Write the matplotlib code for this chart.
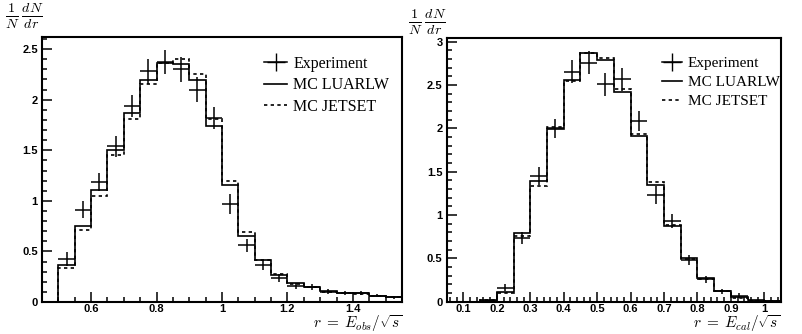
import numpy as np
import matplotlib
matplotlib.use("Agg")
import matplotlib.pyplot as plt
from matplotlib.ticker import MultipleLocator, FuncFormatter
from matplotlib.lines import Line2D

plt.rcParams["mathtext.fontset"] = "cm"

# left panel: r = E_obs / sqrt(s), bins of 0.05 from 0.50
obs_edges = np.round(np.arange(0.50, 1.5501, 0.05), 3)
obs_luarlw = [0.365, 0.756, 1.105, 1.50, 1.867, 2.19, 2.367, 2.354, 2.19, 1.745, 1.16,
              0.654, 0.414, 0.266, 0.19, 0.151, 0.112, 0.092, 0.09, 0.059, 0.052]
obs_jetset = [0.34, 0.71, 1.045, 1.45, 1.81, 2.157, 2.36, 2.40, 2.255, 1.81, 1.20,
              0.69, 0.42, 0.276, 0.18, 0.15, 0.10, 0.09, 0.08, 0.055, 0.05]
obs_exp = [0.425, 0.914, 1.19, 1.54, 1.936, 2.28, 2.37, 2.30, 2.10, 1.82, 0.97,
           0.56, 0.365, 0.233, 0.158, 0.15, 0.10, 0.085, 0.09, 0.06, 0.045]
obs_err = [0.066, 0.08, 0.09, 0.105, 0.11, 0.12, 0.12, 0.12, 0.12, 0.11, 0.1,
           0.066, 0.05, 0.04, 0.03, 0.03, 0.025, 0.02, 0.02, 0.015, 0.015]

# right panel: r = E_cal / sqrt(s), bins of 0.05 from 0.15
cal_edges = np.round(np.arange(0.15, 1.0501, 0.05), 3)
cal_luarlw = [0.02, 0.115, 0.796, 1.392, 1.988, 2.557, 2.865, 2.788, 2.415, 1.911,
              1.346, 0.873, 0.508, 0.27, 0.127, 0.05, 0.015, 0.005]
cal_jetset = [0.02, 0.105, 0.758, 1.335, 2.01, 2.55, 2.87, 2.807, 2.45, 1.94,
              1.384, 0.88, 0.49, 0.26, 0.12, 0.04, 0.01, 0.005]
cal_exp = [0.01, 0.16, 0.73, 1.45, 2.0, 2.653, 2.757, 2.507, 2.565, 2.084,
           1.23, 0.93, 0.48, 0.26, 0.12, 0.07, 0.01, 0.005]
cal_err = [0.01, 0.04, 0.07, 0.1, 0.11, 0.13, 0.13, 0.13, 0.13, 0.12,
           0.1, 0.08, 0.06, 0.04, 0.03, 0.03, 0.01, 0.005]

W, H = 803, 334
fig = plt.figure(figsize=(W / 100, H / 100), dpi=100)

tick_font = {"family": "Liberation Sans", "weight": "bold", "size": 8}
serif = "Liberation Serif"


def fmt(v, pos):
    return "%g" % round(v, 3)


def draw_panel(rect, edges, luarlw, jetset, exp, err, xlim, ylim, xmajor, xminor,
               xlabel, legend_x, handle_len, leg_size):
    ax = fig.add_axes(rect)
    ax.stairs(luarlw, edges, baseline=0, color="black", lw=1.2)
    ax.stairs(jetset, edges, baseline=0, color="black", lw=1.2, linestyle=(0, (2, 2)))
    centers = (edges[:-1] + edges[1:]) / 2
    ax.errorbar(centers, exp, xerr=0.025, yerr=err, fmt="none", ecolor="black", elinewidth=1.1)
    ax.set_xlim(*xlim)
    ax.set_ylim(*ylim)
    ax.xaxis.set_major_locator(MultipleLocator(xmajor))
    ax.xaxis.set_minor_locator(MultipleLocator(xminor))
    ax.yaxis.set_major_locator(MultipleLocator(0.5))
    ax.yaxis.set_minor_locator(MultipleLocator(0.1))
    ax.xaxis.set_major_formatter(FuncFormatter(fmt))
    ax.yaxis.set_major_formatter(FuncFormatter(fmt))
    ax.tick_params(which="both", direction="in", top=False, right=False, width=1.1)
    ax.tick_params(which="major", length=7, pad=3)
    ax.tick_params(axis="x", which="major", pad=1.5)
    ax.tick_params(which="minor", length=3.5)
    for lab in ax.get_xticklabels() + ax.get_yticklabels():
        lab.set_fontproperties(tick_font)
    for s in ax.spines.values():
        s.set_linewidth(1.5)
    handles = [
        Line2D([], [], color="black", lw=1.1, marker="+", markersize=13, linestyle="-"),
        Line2D([], [], color="black", lw=1.2),
        Line2D([], [], color="black", lw=1.2, linestyle=(0, (2, 2))),
    ]
    ax.legend(handles, ["Experiment", "MC LUARLW", "MC JETSET"], frameon=False,
              loc="upper left", bbox_to_anchor=(legend_x, 0.93),
              prop={"family": serif, "size": leg_size},
              handlelength=handle_len, handletextpad=0.4, labelspacing=0.35,
              borderaxespad=0, borderpad=0)
    right = rect[0] + rect[2]
    fig.text(right, 0.5 / H, xlabel, ha="right", va="bottom", fontsize=11)
    return ax


draw_panel([42 / W, 1 - 302 / H, 360 / W, 265 / H], obs_edges, obs_luarlw, obs_jetset,
           obs_exp, obs_err, (0.45, 1.55), (0, 2.62), 0.2, 0.05,
           r"$r\;=\;E_{obs}/\sqrt{s}$", 0.618, 1.4, 11.5)
draw_panel([446.7 / W, 1 - 301.7 / H, 334.3 / W, 264 / H], cal_edges, cal_luarlw, cal_jetset,
           cal_exp, cal_err, (0.05, 1.05), (0, 3.045), 0.1, 0.02,
           r"$r\;=\;E_{cal}/\sqrt{s}$", 0.643, 1.3, 11)

fig.text(5 / W, 1 - 16 / H, r"$\frac{1}{N}\,\frac{dN}{dr}$", fontsize=14.5, va="center", ha="left")
fig.text(408 / W, 1 - 22 / H, r"$\frac{1}{N}\,\frac{dN}{dr}$", fontsize=14.5, va="center", ha="left")

fig.savefig("out.png", dpi=100)
